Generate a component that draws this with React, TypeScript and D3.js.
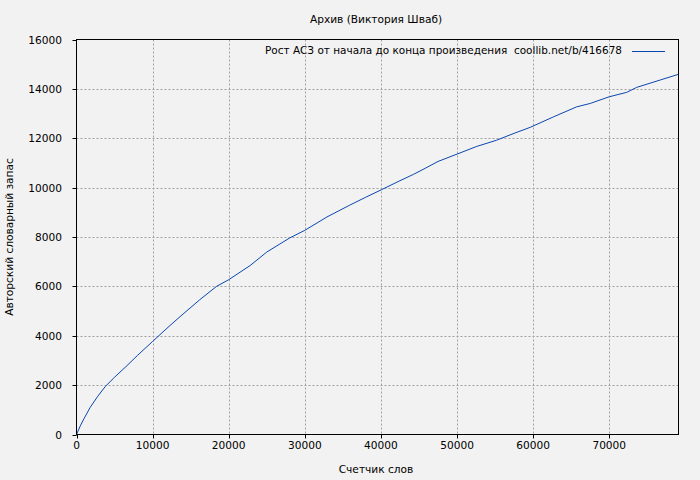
import React from "react";
import * as d3 from "d3";

const words: number[] = [0, 500, 1000, 1800, 2800, 3800, 5000, 6500, 8000, 10000, 12300, 14000, 16200, 18400, 20000, 22800, 25000, 28000, 30000, 32900, 35900, 38000, 40100, 42500, 44300, 45800, 47500, 50100, 52600, 55200, 57500, 59600, 62700, 65700, 67500, 70000, 72300, 73600, 76700, 79100];
const vocab: number[] = [0, 350, 650, 1100, 1550, 1950, 2320, 2750, 3200, 3770, 4420, 4880, 5460, 6000, 6270, 6840, 7390, 7960, 8270, 8810, 9290, 9610, 9920, 10280, 10540, 10780, 11060, 11370, 11670, 11920, 12200, 12440, 12870, 13270, 13410, 13680, 13860, 14060, 14360, 14590];
const xTicks: number[] = [0, 10000, 20000, 30000, 40000, 50000, 60000, 70000];
const yTicks: number[] = [0, 2000, 4000, 6000, 8000, 10000, 12000, 14000, 16000];

const title = "Архив (Виктория Шваб)";
const xLabel = "Счетчик слов";
const yLabel = "Авторский словарный запас";
const legendLabel = "Рост АСЗ от начала до конца произведения  coollib.net/b/416678";

const W = 700, H = 480;
const L = 76.5, R = 678.5, T = 39.5, B = 434.5;
const font = "'DejaVu Sans', sans-serif";
const fs = 10.6;

export default function App() {
  const x = d3.scaleLinear().domain([0, 79100]).range([L, R]);
  const y = d3.scaleLinear().domain([0, 16000]).range([B, T]);
  const line = d3.line<number>().x((_, i) => x(words[i])).y((d) => y(d));
  const path = line(vocab) || "";
  return (
    <svg width={W} height={H} style={{ position: "absolute", left: 0, top: 0 }} fontFamily={font}>
      <rect x={0} y={0} width={W} height={H} fill="#f2f2f2" />
      {xTicks.filter((t) => t > 0).map((t) => (
        <line key={"gx" + t} x1={Math.round(x(t)) + 0.5} x2={Math.round(x(t)) + 0.5} y1={T} y2={B} stroke="#a0a0a0" strokeDasharray="2,2" />
      ))}
      {yTicks.filter((t) => t > 0 && t < 16000).map((t) => (
        <line key={"gy" + t} x1={L} x2={R} y1={Math.round(y(t)) + 0.5} y2={Math.round(y(t)) + 0.5} stroke="#a0a0a0" strokeDasharray="2,2" />
      ))}
      <path d={path} fill="none" stroke="#0a46b0" strokeWidth={1} />
      <rect x={L} y={T} width={R - L} height={B - T} fill="none" stroke="#000" strokeWidth={1} />
      {xTicks.map((t) => (
        <g key={"tx" + t}>
          <line x1={Math.round(x(t)) + 0.5} x2={Math.round(x(t)) + 0.5} y1={B} y2={B + 4} stroke="#000" />
          <text x={x(t)} y={449} fontSize={fs} textAnchor="middle" fill="#000">{t}</text>
        </g>
      ))}
      {yTicks.map((t) => (
        <g key={"ty" + t}>
          <line x1={L - 4} x2={L} y1={Math.round(y(t)) + 0.5} y2={Math.round(y(t)) + 0.5} stroke="#000" />
          <text x={62} y={y(t) + 4} fontSize={fs} textAnchor="end" fill="#000">{t}</text>
        </g>
      ))}
      <text x={376} y={23} fontSize={fs} textAnchor="middle" fill="#000">{title}</text>
      <text x={376} y={473} fontSize={fs} textAnchor="middle" fill="#000">{xLabel}</text>
      <text transform={`translate(13,237) rotate(-90)`} fontSize={fs} textAnchor="middle" fill="#000">{yLabel}</text>
      <text x={622} y={54} fontSize={fs} textAnchor="end" fill="#000" textLength={357} lengthAdjust="spacingAndGlyphs" xmlSpace="preserve" style={{ whiteSpace: "pre" }}>{legendLabel}</text>
      <line x1={632} x2={665} y1={51.5} y2={51.5} stroke="#0a46b0" strokeWidth={1} />
    </svg>
  );
}
